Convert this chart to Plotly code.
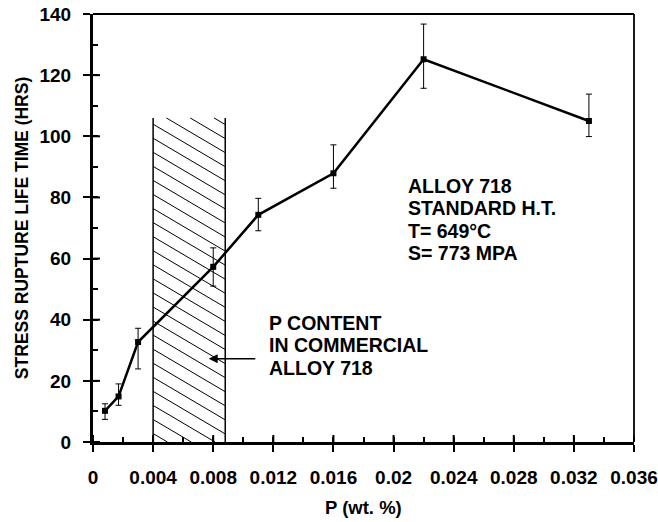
import plotly.graph_objects as go

# Stress rupture life vs. phosphorus content, Alloy 718
p_wt = [0.0008, 0.0017, 0.003, 0.008, 0.011, 0.016, 0.022, 0.033]
life_hrs = [10.2, 14.9, 32.7, 57.3, 74.3, 87.9, 125.2, 105.0]
err_up = [2.3, 4.1, 4.5, 6.2, 5.4, 9.3, 11.5, 8.8]
err_down = [2.8, 2.9, 8.8, 6.3, 5.2, 4.9, 9.5, 5.1]

# Range of P content found in commercial Alloy 718
band_p = [0.004, 0.0088]
band_top = 106.0

x_ticks = [0, 0.004, 0.008, 0.012, 0.016, 0.02, 0.024, 0.028, 0.032, 0.036]
x_tick_text = ["0", "0.004", "0.008", "0.012", "0.016", "0.02", "0.024", "0.028", "0.032", "0.036"]
y_ticks = [0, 20, 40, 60, 80, 100, 120, 140]

conditions = ["ALLOY 718", "STANDARD H.T.", "T= 649°C", "S= 773 MPA"]
band_label = ["P CONTENT", "IN COMMERCIAL", "ALLOY 718"]

FONT = "Liberation Sans, Arial, sans-serif"

fig = go.Figure()

# hatch lines inside the commercial band (descending to the right)
slope = 2900.0     # y units per x unit
spacing = 4.6      # vertical spacing between hatch lines
x0, x1 = band_p
hx, hy = [], []
c = spacing * 0.6
while c < band_top + slope * (x1 - x0):
    xs = x0 if c <= band_top else x0 + (c - band_top) / slope
    xe = x1 if c - slope * (x1 - x0) >= 0 else x0 + c / slope
    if xs < xe:
        hx += [xs, xe, None]
        hy += [c - slope * (xs - x0), c - slope * (xe - x0), None]
    c += spacing
fig.add_trace(go.Scatter(x=hx, y=hy, mode="lines",
                         line=dict(color="black", width=1),
                         hoverinfo="skip", showlegend=False))
# band borders
fig.add_trace(go.Scatter(x=[x0, x0, None, x1, x1], y=[0, band_top, None, 0, band_top],
                         mode="lines", line=dict(color="black", width=1.5),
                         hoverinfo="skip", showlegend=False))

# measured data
fig.add_trace(go.Scatter(
    x=p_wt, y=life_hrs, mode="lines+markers",
    line=dict(color="black", width=2.5),
    marker=dict(symbol="square", size=6, color="black"),
    error_y=dict(type="data", symmetric=False, array=err_up, arrayminus=err_down,
                 color="black", thickness=1, width=3),
    showlegend=False,
))

tick_font = dict(family=FONT, size=19, color="black", weight="bold")

fig.update_layout(
    width=658, height=522,
    margin=dict(l=93, r=24, t=14, b=80),
    paper_bgcolor="white", plot_bgcolor="white",
    xaxis=dict(range=[0, 0.036], tickmode="array", tickvals=x_ticks, ticktext=x_tick_text,
               showgrid=False, zeroline=False, showline=True, linecolor="black",
               linewidth=3, ticks="outside", ticklen=7, tickwidth=2,
               tickcolor="black", tickfont=tick_font, ticklabelstandoff=9,
               ticklabeloverflow="allow", automargin=False,
               minor=dict(ticks="inside", ticklen=5, tickwidth=2, tickcolor="black",
                          tickmode="linear", tick0=0, dtick=0.002, showgrid=False)),
    yaxis=dict(range=[0, 140], tickmode="array", tickvals=y_ticks,
               showgrid=False, zeroline=False, showline=True, linecolor="black",
               linewidth=3, ticks="outside", ticklen=7, tickwidth=2,
               tickcolor="black", tickfont=tick_font, ticklabelstandoff=8,
               ticklabeloverflow="allow", automargin=False,
               minor=dict(ticks="inside", ticklen=5, tickwidth=2, tickcolor="black",
                          tickmode="linear", tick0=0, dtick=10, showgrid=False)),
)

# inner half of the major ticks, so they cross the axis lines
for v in x_ticks:
    fig.add_shape(type="line", xref="x", yref="paper", ysizemode="pixel", yanchor=0,
                  x0=v, x1=v, y0=0, y1=7, line=dict(color="black", width=2))
for v in y_ticks:
    fig.add_shape(type="line", yref="y", xref="paper", xsizemode="pixel", xanchor=0,
                  y0=v, y1=v, x0=0, x1=7, line=dict(color="black", width=2))
# thin frame on the top and right sides
fig.add_shape(type="line", xref="paper", yref="paper", x0=0, x1=1, y0=1, y1=1,
              line=dict(color="black", width=1.8))
fig.add_shape(type="line", xref="paper", yref="paper", x0=1, x1=1, y0=0, y1=1,
              line=dict(color="black", width=1.8))

label_font = dict(family=FONT, size=19.5, color="black", weight="bold")

fig.add_annotation(text="STRESS RUPTURE LIFE TIME (HRS)", xref="paper", yref="paper",
                   x=-0.131, y=0.5, textangle=-90, showarrow=False,
                   xanchor="center", yanchor="middle",
                   font=dict(family=FONT, size=17.5, color="black", weight="bold"))
fig.add_annotation(text="P (wt. %)", xref="paper", yref="paper",
                   x=0.5, y=-0.154, showarrow=False,
                   xanchor="center", yanchor="middle",
                   font=dict(family=FONT, size=18.5, color="black", weight="bold"))

# test conditions, one line per annotation
for i, line in enumerate(conditions):
    fig.add_annotation(text=line, x=0.0208, y=83.8 - i * 7.33, xref="x", yref="y",
                       showarrow=False, xanchor="left", yanchor="middle",
                       font=label_font)
for i, line in enumerate(band_label):
    fig.add_annotation(text=line, x=0.01155, y=38.9 - i * 7.33, xref="x", yref="y",
                       showarrow=False, xanchor="left", yanchor="middle",
                       font=label_font)
fig.add_annotation(text="", x=0.0077, y=27.2, ax=0.0109, ay=27.2,
                   xref="x", yref="y", axref="x", ayref="y",
                   showarrow=True, arrowhead=2, arrowsize=1.2, arrowwidth=1.5,
                   arrowcolor="black")

fig.write_html("out.html")
